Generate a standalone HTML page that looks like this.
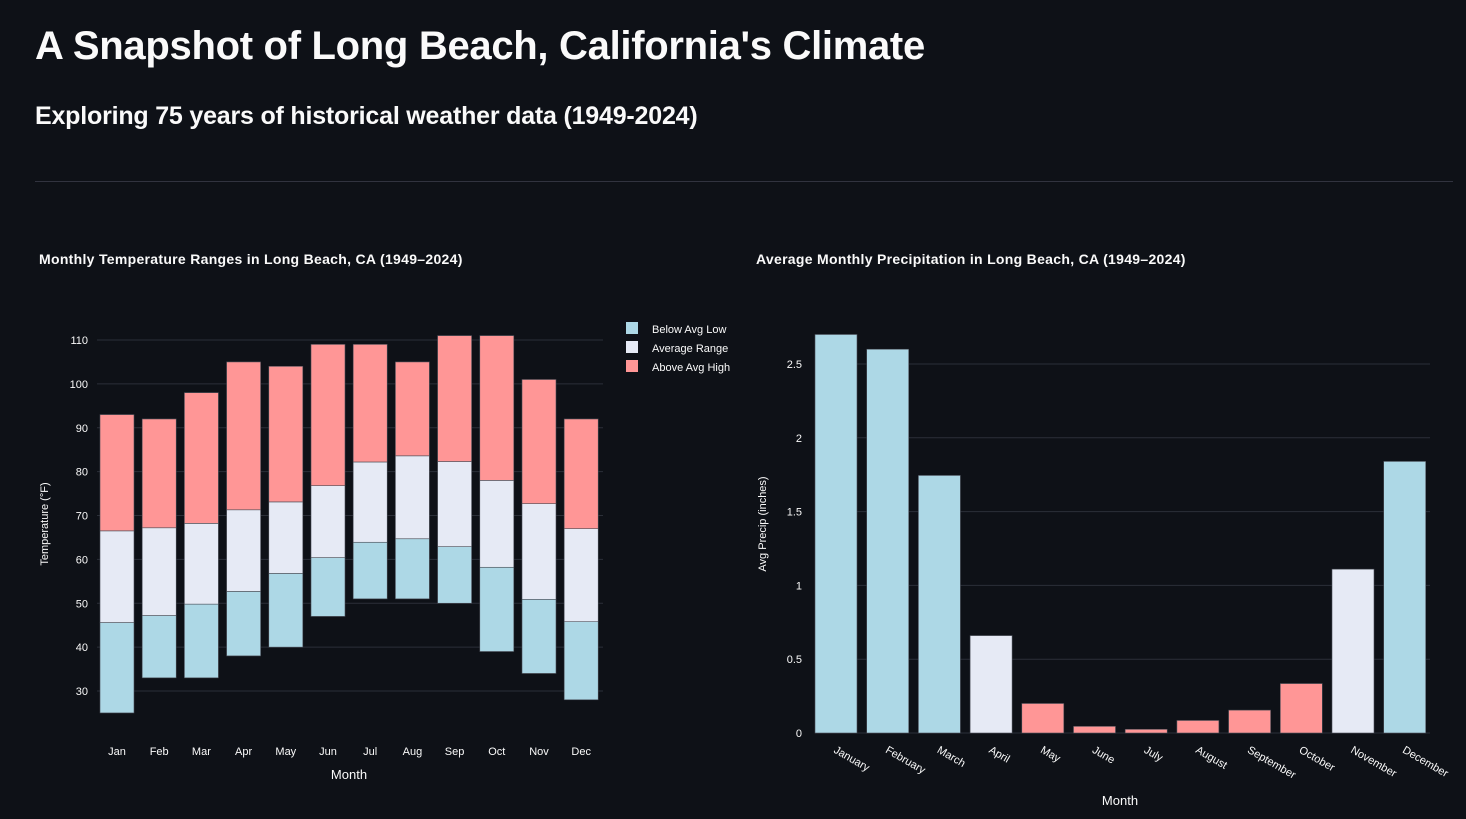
<!DOCTYPE html>
<html><head><meta charset="utf-8"><style>
body{margin:0;background:#0e1117;width:1466px;height:819px;overflow:hidden;font-family:"Liberation Sans",sans-serif;color:#fafafa}
.t{position:absolute;left:35px;top:24px;font-size:40px;font-weight:bold;letter-spacing:-0.3px}
.s{position:absolute;left:35px;top:102px;font-size:25px;font-weight:bold;letter-spacing:-0.2px}
.hr{position:absolute;left:35px;top:181px;width:1418px;height:1px;background:#31333f}
svg{position:absolute;left:0;top:0}
</style></head><body>
<div class="t">A Snapshot of Long Beach, California's Climate</div>
<div class="s">Exploring 75 years of historical weather data (1949-2024)</div>
<div class="hr"></div>
<svg id="c" width="1466" height="819" font-family="Liberation Sans, sans-serif" fill="#fafafa">
<text x="39" y="264" font-size="14" font-weight="bold" letter-spacing="0.3">Monthly Temperature Ranges in Long Beach, CA (1949–2024)</text>
<text x="756" y="264" font-size="14" font-weight="bold" letter-spacing="0.3">Average Monthly Precipitation in Long Beach, CA (1949–2024)</text>
<text x="349" y="779" font-size="13" text-anchor="middle">Month</text>
<text transform="translate(48,524) rotate(-90)" font-size="11" text-anchor="middle">Temperature (°F)</text>
<text x="1120" y="805" font-size="13" text-anchor="middle">Month</text>
<text transform="translate(766,524) rotate(-90)" font-size="11" text-anchor="middle">Avg Precip (inches)</text>
<g>
<rect x="626" y="322" width="12" height="12" fill="#add8e6"/><text x="652" y="333" font-size="11">Below Avg Low</text>
<rect x="626" y="341" width="12" height="12" fill="#e6eaf5"/><text x="652" y="352" font-size="11">Average Range</text>
<rect x="626" y="360" width="12" height="12" fill="#ff9696"/><text x="652" y="371" font-size="11">Above Avg High</text>
</g>
</svg>
<script>
const months=["Jan","Feb","Mar","Apr","May","Jun","Jul","Aug","Sep","Oct","Nov","Dec"];
const recMin=[25,33,33,38,40,47,51,51,50,39,34,28];
const avgLow=[45.6,47.2,49.8,52.7,56.8,60.4,63.9,64.7,62.9,58.2,50.9,45.8];
const avgHigh=[66.5,67.2,68.2,71.3,73.1,76.8,82.2,83.6,82.3,78,72.7,67];
const recMax=[93,92,98,105,104,109,109,105,111,111,101,92];
const tempTicks=[30,40,50,60,70,80,90,100,110];
const monthsFull=["January","February","March","April","May","June","July","August","September","October","November","December"];
const precip=[2.7,2.6,1.745,0.66,0.2,0.045,0.025,0.085,0.155,0.335,1.11,1.84];
const precipTicks=[0,0.5,1,1.5,2,2.5];
const NS="http://www.w3.org/2000/svg",svg=document.getElementById('c');
function mk(t,a,p){const e=document.createElementNS(NS,t);for(const k in a)e.setAttribute(k,a[k]);(p||svg).appendChild(e);return e;}
const ty=v=>340+(110-v)*351/80, tx=i=>117+i*42.2;
const g1=mk('g',{});


tempTicks.forEach(v=>{const l=mk('line',{x1:97,x2:603,y1:ty(v),y2:ty(v),stroke:'#2b2f38'},g1);


const t=mk('text',{x:88,y:ty(v)+4,'font-size':11,'text-anchor':'end'},g1);t.textContent=v;

});
months.forEach((m,i)=>{const x=tx(i)-17;
[[recMin[i],avgLow[i],'#add8e6','below'],[avgLow[i],avgHigh[i],'#e6eaf5','average'],[avgHigh[i],recMax[i],'#ff9696','above']].forEach(s=>{
const r=mk('rect',{x:x,width:34,y:ty(s[1]),height:ty(s[0])-ty(s[1]),fill:s[2],stroke:'#4a4e57','stroke-width':0.6},g1);

});
const t=mk('text',{x:tx(i),y:755,'font-size':11,'text-anchor':'middle'},g1);t.textContent=m;

});
const py=v=>733-v*147.6, px=i=>836+i*51.7;
const g2=mk('g',{});


precipTicks.forEach(v=>{const l=mk('line',{x1:815,x2:1430,y1:py(v),y2:py(v),stroke:'#2b2f38'},g2);


const t=mk('text',{x:802,y:py(v)+4,'font-size':11,'text-anchor':'end'},g2);t.textContent=v;

});
precip.forEach((v,i)=>{const c=v>1.5?'#add8e6':v>=0.5?'#e6eaf5':'#ff9696';
const r=mk('rect',{x:px(i)-21,width:42,y:py(v),height:py(0)-py(v),fill:c,stroke:'#4a4e57','stroke-width':0.6},g2);


const t=mk('text',{x:px(i)-3,y:752,'font-size':11,transform:`rotate(30 ${px(i)-3} 752)`},g2);t.textContent=monthsFull[i];

});
</script>
</body></html>
